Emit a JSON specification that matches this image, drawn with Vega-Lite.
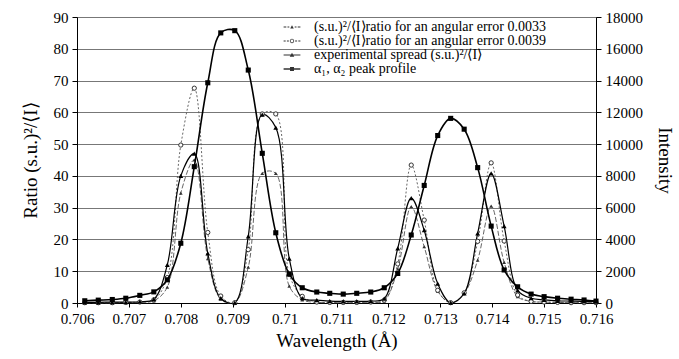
{
  "$schema": "https://vega.github.io/schema/vega-lite/v6.json",
  "width": 519,
  "height": 286,
  "autosize": {"type": "none"},
  "padding": {"left": 77, "top": 17, "right": 83, "bottom": 56},
  "background": "white",
  "data": {
    "values": [
      {"wl": 0.70615, "e0033": 0.1, "e0039": 0.1, "exp": 0.2, "intensity": 140},
      {"wl": 0.70641, "e0033": 0.1, "e0039": 0.1, "exp": 0.2, "intensity": 180},
      {"wl": 0.70668, "e0033": 0.1, "e0039": 0.1, "exp": 0.3, "intensity": 220},
      {"wl": 0.70694, "e0033": 0.2, "e0039": 0.2, "exp": 0.3, "intensity": 300},
      {"wl": 0.70721, "e0033": 0.2, "e0039": 0.3, "exp": 0.4, "intensity": 480},
      {"wl": 0.70748, "e0033": 0.7, "e0039": 1.0, "exp": 1.2, "intensity": 700},
      {"wl": 0.70774, "e0033": 5, "e0039": 8, "exp": 12, "intensity": 1460},
      {"wl": 0.70800, "e0033": 34.6, "e0039": 49.7, "exp": 40, "intensity": 3760},
      {"wl": 0.70826, "e0033": 45, "e0039": 67.6, "exp": 47, "intensity": 8580},
      {"wl": 0.70852, "e0033": 14, "e0039": 22.2, "exp": 15.6, "intensity": 13860},
      {"wl": 0.70877, "e0033": 1.2, "e0039": 2.2, "exp": 1.5, "intensity": 17000},
      {"wl": 0.70904, "e0033": 0.1, "e0039": 0.1, "exp": 0.1, "intensity": 17140},
      {"wl": 0.70930, "e0033": 11.3, "e0039": 16.8, "exp": 21, "intensity": 14660},
      {"wl": 0.70957, "e0033": 40.8, "e0039": 59.5, "exp": 59.3, "intensity": 9420},
      {"wl": 0.70983, "e0033": 40.8, "e0039": 59.5, "exp": 55.2, "intensity": 4420},
      {"wl": 0.71009, "e0033": 5.3, "e0039": 9, "exp": 14, "intensity": 1820},
      {"wl": 0.71034, "e0033": 1.0, "e0039": 2.1, "exp": 1.5, "intensity": 960},
      {"wl": 0.71062, "e0033": 0.2, "e0039": 0.3, "exp": 0.9, "intensity": 690},
      {"wl": 0.71087, "e0033": 0.1, "e0039": 0.2, "exp": 0.6, "intensity": 610},
      {"wl": 0.71113, "e0033": 0.1, "e0039": 0.2, "exp": 0.5, "intensity": 560},
      {"wl": 0.71139, "e0033": 0.1, "e0039": 0.2, "exp": 0.5, "intensity": 610},
      {"wl": 0.71166, "e0033": 0.2, "e0039": 0.3, "exp": 0.6, "intensity": 690},
      {"wl": 0.71192, "e0033": 0.7, "e0039": 0.9, "exp": 1.4, "intensity": 960},
      {"wl": 0.71218, "e0033": 10.7, "e0039": 12.3, "exp": 17.2, "intensity": 1860},
      {"wl": 0.71244, "e0033": 30.3, "e0039": 43.4, "exp": 33, "intensity": 4280},
      {"wl": 0.71269, "e0033": 17.7, "e0039": 26.1, "exp": 22.9, "intensity": 7400},
      {"wl": 0.71295, "e0033": 3.7, "e0039": 4.0, "exp": 6.1, "intensity": 10540},
      {"wl": 0.71320, "e0033": 0.1, "e0039": 0.1, "exp": 0.1, "intensity": 11620},
      {"wl": 0.71346, "e0033": 3.0, "e0039": 3.2, "exp": 3.0, "intensity": 10940},
      {"wl": 0.71372, "e0033": 13.5, "e0039": 19.4, "exp": 21.9, "intensity": 8520},
      {"wl": 0.71398, "e0033": 30.5, "e0039": 44.1, "exp": 40.8, "intensity": 4840},
      {"wl": 0.71423, "e0033": 12.8, "e0039": 19.5, "exp": 24.2, "intensity": 2080},
      {"wl": 0.71449, "e0033": 2.0, "e0039": 2.5, "exp": 4.0, "intensity": 1020},
      {"wl": 0.71475, "e0033": 0.5, "e0039": 0.5, "exp": 1.5, "intensity": 560},
      {"wl": 0.71500, "e0033": 0.3, "e0039": 0.3, "exp": 1.0, "intensity": 400},
      {"wl": 0.71526, "e0033": 0.2, "e0039": 0.2, "exp": 0.7, "intensity": 300},
      {"wl": 0.71552, "e0033": 0.2, "e0039": 0.1, "exp": 0.6, "intensity": 240},
      {"wl": 0.71577, "e0033": 0.2, "e0039": 0.1, "exp": 0.5, "intensity": 190},
      {"wl": 0.71600, "e0033": 0.2, "e0039": 0.1, "exp": 0.5, "intensity": 120}
    ]
  },
  "encoding": {
    "x": {
      "field": "wl",
      "type": "quantitative",
      "scale": {"domain": [0.706, 0.716], "nice": false, "zero": false},
      "axis": {
        "values": [0.706, 0.707, 0.708, 0.709, 0.71, 0.711, 0.712, 0.713, 0.714, 0.715, 0.716],
        "format": ".3~f",
        "title": "Wavelength (Å)",
        "tickSize": 4,
        "labelPadding": 4,
        "titlePadding": 5,
        "labelFlush": false,
        "labelOverlap": false,
        "grid": false
      }
    }
  },
  "layer": [
    {
      "transform": [{"fold": ["e0033", "e0039", "exp"], "as": ["series", "value"]}],
      "encoding": {
        "y": {
          "field": "value",
          "type": "quantitative",
          "scale": {"domain": [0, 90], "nice": false},
          "axis": {
            "values": [0, 10, 20, 30, 40, 50, 60, 70, 80, 90],
            "title": "Ratio (s.u.)²/⟨I⟩",
            "grid": true,
            "gridColor": "#777777",
            "gridWidth": 1,
            "tickSize": 5,
            "labelPadding": 4,
            "labelFlush": false,
            "titlePadding": 13
          }
        }
      },
      "layer": [
        {
          "transform": [{"filter": "datum.series !== 'exp'"}],
          "mark": {"type": "line", "interpolate": "catmull-rom", "strokeWidth": 0.9, "color": "#555555"},
          "encoding": {
            "strokeDash": {
              "field": "series",
              "type": "nominal",
              "scale": {"domain": ["e0033", "e0039"], "range": [[5, 2], [2, 2]]},
              "legend": null
            }
          }
        },
        {
          "transform": [{"filter": "datum.series === 'exp'"}],
          "mark": {"type": "line", "interpolate": "catmull-rom", "strokeWidth": 1.2, "color": "black"}
        },
        {
          "transform": [{"filter": "datum.series === 'e0033'"}],
          "mark": {"type": "point", "filled": true, "size": 14, "color": "#333333", "opacity": 1},
          "encoding": {
            "shape": {
              "condition": {"test": "datum.value > -1", "value": "triangle-up"},
              "field": "series",
              "type": "nominal",
              "scale": {
                "domain": ["e0033", "e0039", "exp", "intensity"],
                "range": [
                  "M-1.4,-0.07H-0.95V0.07H-1.4ZM-0.75,-0.07H-0.45V0.07H-0.75ZM0.45,-0.07H0.75V0.07H0.45ZM0.95,-0.07H1.4V0.07H0.95ZM-0.3,0.25L0,-0.3L0.3,0.25Z",
                  "M-1.4,-0.07H-1.05V0.07H-1.4ZM-0.85,-0.07H-0.52V0.07H-0.85ZM0.52,-0.07H0.85V0.07H0.52ZM1.05,-0.07H1.4V0.07H1.05ZM0.36,0A0.36,0.36,0,1,1,-0.36,0A0.36,0.36,0,1,1,0.36,0ZM0.24,0A0.24,0.24,0,1,0,-0.24,0A0.24,0.24,0,1,0,0.24,0Z",
                  "M-1.4,-0.08H1.4V0.08H-1.4ZM-0.38,0.3L0,-0.38L0.38,0.3Z",
                  "M-1.4,-0.12H1.4V0.12H-1.4ZM-0.33,-0.33H0.33V0.33H-0.33Z"
                ]
              },
              "legend": {
                "orient": "none",
                "legendX": 208,
                "legendY": 3,
                "title": null,
                "padding": 0,
                "labelFont": "Liberation Serif",
                "labelFontSize": 14,
                "labelColor": "black",
                "labelLimit": 400,
                "labelOffset": 15,
                "rowPadding": 0,
                "symbolSize": 144,
                "symbolFillColor": "black",
                "symbolOpacity": 1,
                "labelExpr": "datum.value === 'e0033' ? '(s.u.)²/⟨I⟩ratio for an angular error 0.0033' : datum.value === 'e0039' ? '(s.u.)²/⟨I⟩ratio for an angular error 0.0039' : datum.value === 'exp' ? 'experimental spread (s.u.)²/⟨I⟩' : 'α₁, α₂ peak profile'"
              }
            }
          }
        },
        {
          "transform": [{"filter": "datum.series === 'e0039'"}],
          "mark": {"type": "point", "filled": true, "size": 18, "fill": "white", "stroke": "#333333", "strokeWidth": 1, "opacity": 1},
          "encoding": {
            "shape": {
              "condition": {"test": "datum.value > -1", "value": "circle"},
              "field": "series",
              "type": "nominal",
              "scale": {
                "domain": ["e0033", "e0039", "exp", "intensity"],
                "range": [
                  "M-1.4,-0.07H-0.95V0.07H-1.4ZM-0.75,-0.07H-0.45V0.07H-0.75ZM0.45,-0.07H0.75V0.07H0.45ZM0.95,-0.07H1.4V0.07H0.95ZM-0.3,0.25L0,-0.3L0.3,0.25Z",
                  "M-1.4,-0.07H-1.05V0.07H-1.4ZM-0.85,-0.07H-0.52V0.07H-0.85ZM0.52,-0.07H0.85V0.07H0.52ZM1.05,-0.07H1.4V0.07H1.05ZM0.36,0A0.36,0.36,0,1,1,-0.36,0A0.36,0.36,0,1,1,0.36,0ZM0.24,0A0.24,0.24,0,1,0,-0.24,0A0.24,0.24,0,1,0,0.24,0Z",
                  "M-1.4,-0.08H1.4V0.08H-1.4ZM-0.38,0.3L0,-0.38L0.38,0.3Z",
                  "M-1.4,-0.12H1.4V0.12H-1.4ZM-0.33,-0.33H0.33V0.33H-0.33Z"
                ]
              }
            }
          }
        },
        {
          "transform": [{"filter": "datum.series === 'exp'"}],
          "mark": {"type": "point", "filled": true, "size": 24, "color": "black", "opacity": 1},
          "encoding": {
            "shape": {
              "condition": {"test": "datum.value > -1", "value": "triangle-up"},
              "field": "series",
              "type": "nominal",
              "scale": {
                "domain": ["e0033", "e0039", "exp", "intensity"],
                "range": [
                  "M-1.4,-0.07H-0.95V0.07H-1.4ZM-0.75,-0.07H-0.45V0.07H-0.75ZM0.45,-0.07H0.75V0.07H0.45ZM0.95,-0.07H1.4V0.07H0.95ZM-0.3,0.25L0,-0.3L0.3,0.25Z",
                  "M-1.4,-0.07H-1.05V0.07H-1.4ZM-0.85,-0.07H-0.52V0.07H-0.85ZM0.52,-0.07H0.85V0.07H0.52ZM1.05,-0.07H1.4V0.07H1.05ZM0.36,0A0.36,0.36,0,1,1,-0.36,0A0.36,0.36,0,1,1,0.36,0ZM0.24,0A0.24,0.24,0,1,0,-0.24,0A0.24,0.24,0,1,0,0.24,0Z",
                  "M-1.4,-0.08H1.4V0.08H-1.4ZM-0.38,0.3L0,-0.38L0.38,0.3Z",
                  "M-1.4,-0.12H1.4V0.12H-1.4ZM-0.33,-0.33H0.33V0.33H-0.33Z"
                ]
              }
            }
          }
        }
      ]
    },
    {
      "transform": [{"fold": ["intensity"], "as": ["series", "value"]}],
      "encoding": {
        "y": {
          "field": "value",
          "type": "quantitative",
          "scale": {"domain": [0, 18000], "nice": false},
          "axis": {
            "orient": "right",
            "values": [0, 2000, 4000, 6000, 8000, 10000, 12000, 14000, 16000, 18000],
            "format": "d",
            "title": "Intensity",
            "grid": false,
            "tickSize": 5,
            "labelPadding": 4,
            "labelFlush": false,
            "titlePadding": 12
          }
        }
      },
      "layer": [
        {
          "mark": {"type": "line", "interpolate": "catmull-rom", "strokeWidth": 1.6, "color": "black"}
        },
        {
          "mark": {"type": "point", "filled": true, "size": 26, "color": "black", "opacity": 1},
          "encoding": {
            "shape": {
              "condition": {"test": "datum.value > -1", "value": "square"},
              "field": "series",
              "type": "nominal",
              "scale": {
                "domain": ["e0033", "e0039", "exp", "intensity"],
                "range": [
                  "M-1.4,-0.07H-0.95V0.07H-1.4ZM-0.75,-0.07H-0.45V0.07H-0.75ZM0.45,-0.07H0.75V0.07H0.45ZM0.95,-0.07H1.4V0.07H0.95ZM-0.3,0.25L0,-0.3L0.3,0.25Z",
                  "M-1.4,-0.07H-1.05V0.07H-1.4ZM-0.85,-0.07H-0.52V0.07H-0.85ZM0.52,-0.07H0.85V0.07H0.52ZM1.05,-0.07H1.4V0.07H1.05ZM0.36,0A0.36,0.36,0,1,1,-0.36,0A0.36,0.36,0,1,1,0.36,0ZM0.24,0A0.24,0.24,0,1,0,-0.24,0A0.24,0.24,0,1,0,0.24,0Z",
                  "M-1.4,-0.08H1.4V0.08H-1.4ZM-0.38,0.3L0,-0.38L0.38,0.3Z",
                  "M-1.4,-0.12H1.4V0.12H-1.4ZM-0.33,-0.33H0.33V0.33H-0.33Z"
                ]
              }
            }
          }
        }
      ]
    }
  ],
  "resolve": {"scale": {"y": "independent"}},
  "config": {
    "font": "Liberation Serif",
    "view": {"stroke": "#999999", "strokeWidth": 1},
    "axis": {
      "labelFont": "Liberation Serif",
      "titleFont": "Liberation Serif",
      "labelFontSize": 15,
      "titleFontSize": 19,
      "titleFontWeight": "normal",
      "labelColor": "black",
      "titleColor": "black",
      "domainColor": "black",
      "tickColor": "black"
    }
  }
}
